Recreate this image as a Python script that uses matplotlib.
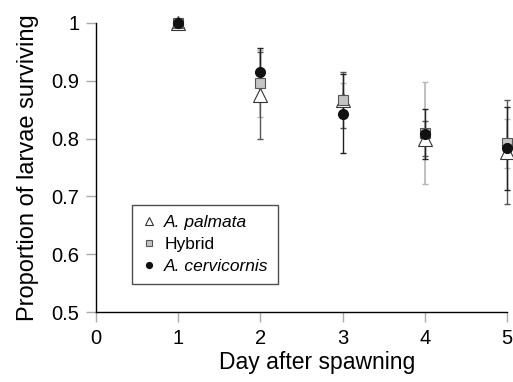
import matplotlib
matplotlib.use("Agg")
import matplotlib.pyplot as plt

plt.rcParams['font.family'] = ['Liberation Sans', 'DejaVu Sans']

days = [1, 2, 3, 4, 5]
palmata = [1.0, 0.875, 0.867, 0.800, 0.777]
palmata_err = [0.0, 0.075, 0.048, 0.030, 0.090]
hybrid = [1.0, 0.896, 0.867, 0.810, 0.792]
hybrid_err = [0.0, 0.058, 0.030, 0.088, 0.042]
cervicornis = [1.0, 0.915, 0.843, 0.808, 0.783]
cervicornis_err = [0.0, 0.042, 0.068, 0.043, 0.072]

xticks = [0, 1, 2, 3, 4, 5]
yticks = [0.5, 0.6, 0.7, 0.8, 0.9, 1.0]
ytick_labels = ['0.5', '0.6', '0.7', '0.8', '0.9', '1']

fig = plt.figure(figsize=(5.13, 3.82), dpi=100)
ax = fig.add_axes([96/513, 1 - 312/382, (507-96)/513, (312-23)/382])

ax.errorbar(days, hybrid, yerr=hybrid_err, fmt='none', ecolor='#b5b5b5',
            elinewidth=1.2, capsize=2.5, capthick=1, clip_on=False, zorder=2)
ax.errorbar(days, palmata, yerr=palmata_err, fmt='none', ecolor='#555555',
            elinewidth=1.0, capsize=2.5, capthick=1, clip_on=False, zorder=2)
ax.errorbar(days, cervicornis, yerr=cervicornis_err, fmt='none', ecolor='#222222',
            elinewidth=1.0, capsize=2.5, capthick=1, clip_on=False, zorder=2)

ax.plot(days, palmata, linestyle='none', marker='^', markersize=10,
        markerfacecolor='white', markeredgecolor='#333333', markeredgewidth=0.8,
        clip_on=False, zorder=3, label='A. palmata')
ax.plot(days, hybrid, linestyle='none', marker='s', markersize=7,
        markerfacecolor='#c4c4c4', markeredgecolor='#555555', markeredgewidth=0.8,
        clip_on=False, zorder=4, label='Hybrid')
ax.plot(days, cervicornis, linestyle='none', marker='o', markersize=7,
        markerfacecolor='#111111', markeredgecolor='#111111',
        clip_on=False, zorder=5, label='A. cervicornis')

ax.set_xlim(0, 5)
ax.set_ylim(0.5, 1.0)
ax.set_xticks(xticks)
ax.set_yticks(yticks)
ax.set_yticklabels(ytick_labels)
ax.spines['top'].set_visible(False)
ax.spines['right'].set_visible(False)
ax.spines['left'].set_linewidth(1.0)
ax.spines['bottom'].set_linewidth(1.0)
ax.tick_params(axis='both', direction='out', length=7, width=1, color='#aaaaaa',
               labelsize=14.5, pad=5)
ax.set_xlabel('Day after spawning', fontsize=16.5)
ax.xaxis.set_label_coords(0.538, -0.135)
ax.set_ylabel('Proportion of larvae surviving', fontsize=17, labelpad=9)

handles, labels = ax.get_legend_handles_labels()
leg = ax.legend(handles, labels, loc='upper left', bbox_to_anchor=(0.44/5, (0.685-0.5)/0.5),
                borderaxespad=0, frameon=True, fancybox=False, fontsize=12.5, markerscale=0.6,
                handlelength=0.8, handletextpad=0.5, borderpad=0.55, labelspacing=0.4)
leg.get_frame().set_edgecolor('#222222')
leg.get_frame().set_linewidth(1.0)
for t in leg.get_texts():
    if t.get_text() != 'Hybrid':
        t.set_fontstyle('italic')

fig.savefig('out.png', dpi=100)
